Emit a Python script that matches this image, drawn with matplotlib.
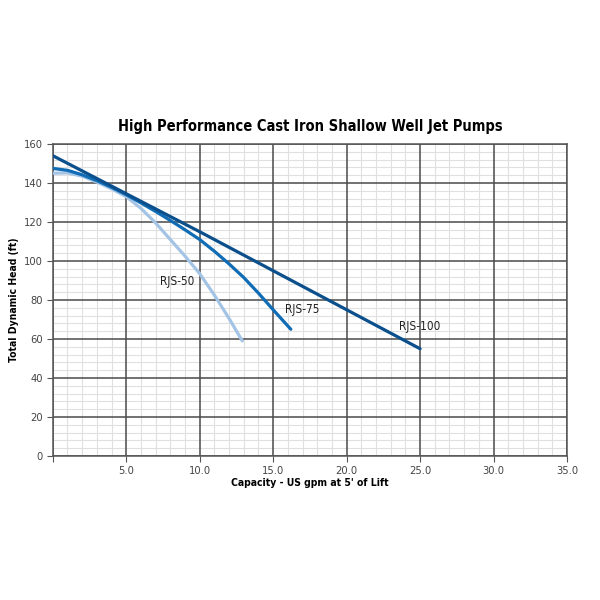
import numpy as np
import matplotlib
matplotlib.use("Agg")
import matplotlib.pyplot as plt
from matplotlib import font_manager

# look for a narrow/condensed face, else fall back to DejaVu
def find_font(bold):
    best = None
    for f in font_manager.fontManager.ttflist:
        nm = (f.name + " " + f.fname).lower()
        if ("narrow" in nm or "condensed" in nm) and "italic" not in nm and "oblique" not in nm:
            isbold = (f.weight in (600, 700, 'bold', 'semibold')) or "bold" in f.fname.lower()
            if isbold == bold:
                if best is None or "liberation" in nm:
                    best = f.fname
    return best

reg_file = find_font(False)
bold_file = find_font(True)
scale = 1.0
if reg_file and bold_file:
    fp_reg = font_manager.FontProperties(fname=reg_file)
    fp_bold = font_manager.FontProperties(fname=bold_file)
else:
    fp_reg = font_manager.FontProperties(family='DejaVu Sans')
    fp_bold = font_manager.FontProperties(family='DejaVu Sans', weight='bold')
    scale = 0.85

# curve data (US gpm, ft)
rjs50_x = [0, 1, 2, 3, 4, 5, 6, 7, 8, 9, 10, 11, 12, 12.9]
rjs50_y = [145, 145.2, 143.5, 140.5, 137, 133, 127, 119.5, 111, 102.5, 93.5, 82.5, 70.5, 59]
rjs75_x = [0, 1, 2, 3, 4, 5, 6, 7, 8, 9, 10, 11, 12, 13, 14, 15, 16.2]
rjs75_y = [147.5, 146.5, 144.2, 141.2, 137.8, 134, 129.8, 125.4, 120.8, 116, 111, 105, 98.5, 91.5, 83.5, 75, 65]
rjs100_x = [0, 5, 10, 15, 20, 25]
rjs100_y = [154, 134.5, 115, 95, 75, 55]

labels = ["RJS-50", "RJS-75", "RJS-100"]
label_pos = [(8.5, 89.5), (17.0, 75.0), (25.0, 66.5)]

x_major = [0, 5, 10, 15, 20, 25, 30, 35]
x_ticklabels = ["", "5.0", "10.0", "15.0", "20.0", "25.0", "30.0", "35.0"]
y_major = list(range(0, 161, 20))

fig = plt.figure(figsize=(6, 6), dpi=100)
ax = fig.add_axes([0.088, 0.24, 0.857, 0.52])

ax.set_xlim(0, 35)
ax.set_ylim(0, 160)
ax.set_xticks(x_major)
ax.set_xticklabels(x_ticklabels)
ax.set_yticks(y_major)

# grid drawn by hand so that major lines sit above all minor lines
for v in range(36):
    if v % 5:
        ax.axvline(v, color='#e0e0e0', lw=0.8, zorder=0.5)
for v in range(0, 161, 4):
    if v % 20:
        ax.axhline(v, color='#e0e0e0', lw=0.8, zorder=0.5)
for v in x_major:
    ax.axvline(v, color='#4a4a4a', lw=1.1, zorder=0.8)
for v in y_major:
    ax.axhline(v, color='#4a4a4a', lw=1.1, zorder=0.8)

for s in ax.spines.values():
    s.set_color('#555555')
    s.set_linewidth(1.1)
ax.tick_params(which='major', length=4, color='#555555', labelcolor='#444444', pad=3)
for lab in ax.get_xticklabels() + ax.get_yticklabels():
    lab.set_fontproperties(fp_reg)
    lab.set_fontsize(8 * scale)

ax.plot(rjs50_x, rjs50_y, color='#a4c4e6', lw=2.3, solid_capstyle='round', zorder=3)
ax.plot(rjs75_x, rjs75_y, color='#106cb4', lw=2.3, solid_capstyle='round', zorder=3)
ax.plot(rjs100_x, rjs100_y, color='#0b4f8c', lw=2.3, solid_capstyle='round', zorder=3)

for t, (x, y) in zip(labels, label_pos):
    ax.text(x, y, t, fontproperties=fp_reg, fontsize=8.5 * scale, ha='center', va='center',
            color='#222222', zorder=4)

ax.set_title("High Performance Cast Iron Shallow Well Jet Pumps", fontproperties=fp_bold,
             fontsize=10.5 * scale, pad=9)
ax.set_xlabel("Capacity - US gpm at 5' of Lift", fontproperties=fp_bold, fontsize=7.5 * scale,
              labelpad=2)
ax.set_ylabel("Total Dynamic Head (ft)", fontproperties=fp_bold, fontsize=7.5 * scale, labelpad=4)

fig.savefig("out.png", dpi=100)
